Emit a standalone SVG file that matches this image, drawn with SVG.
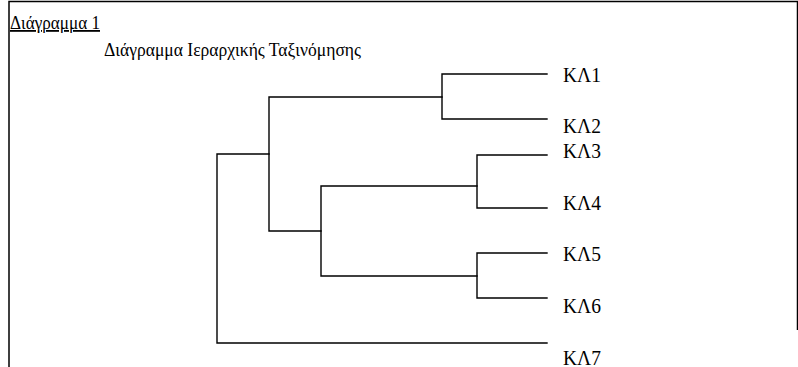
<svg xmlns="http://www.w3.org/2000/svg" width="798" height="367" viewBox="0 0 798 367">
  <style>
    .frame { stroke: #000; stroke-width: 1.5; fill: none; }
    .link { stroke: #000; stroke-width: 1.4; fill: none; stroke-linecap: square; }
    text { font-family: "Liberation Serif", "Times New Roman", serif; fill: #000; }
    .title { font-size: 18px; text-decoration: underline; }
    .subtitle { font-size: 18px; }
    .leaf { font-size: 21px; }
  </style>
  <rect width="798" height="367" fill="#fff"/>
  <!-- page frame -->
  <path class="frame" d="M9,367 V1.5 H797.5 V330"/>

  <text class="title" x="10" y="29" textLength="90" lengthAdjust="spacingAndGlyphs">Διάγραμμα 1</text>
  <text class="subtitle" x="104" y="56" textLength="257" lengthAdjust="spacingAndGlyphs">Διάγραμμα Ιεραρχικής Ταξινόμησης</text>

  <!-- dendrogram branches -->
  <g id="connectors">
    <path class="link" d="M547,74 H442 V119 H547"/>
    <path class="link" d="M547,155 H477 V208 H547"/>
    <path class="link" d="M547,253 H477 V298 H547"/>
    <path class="link" d="M477,186 H321 V276 H477"/>
    <path class="link" d="M442,97 H269 V231 H321"/>
    <path class="link" d="M269,154 H217 V343 H547"/>
  </g>

  <!-- leaf labels -->
  <g id="KL1"><text class="leaf" x="563" y="82" textLength="38" lengthAdjust="spacingAndGlyphs">ΚΛ1</text></g>
  <g id="KL2"><text class="leaf" x="563" y="133" textLength="38" lengthAdjust="spacingAndGlyphs">ΚΛ2</text></g>
  <g id="KL3"><text class="leaf" x="563" y="158" textLength="38" lengthAdjust="spacingAndGlyphs">ΚΛ3</text></g>
  <g id="KL4"><text class="leaf" x="563" y="210" textLength="38" lengthAdjust="spacingAndGlyphs">ΚΛ4</text></g>
  <g id="KL5"><text class="leaf" x="563" y="261" textLength="38" lengthAdjust="spacingAndGlyphs">ΚΛ5</text></g>
  <g id="KL6"><text class="leaf" x="563" y="313" textLength="38" lengthAdjust="spacingAndGlyphs">ΚΛ6</text></g>
  <g id="KL7"><text class="leaf" x="563" y="365" textLength="38" lengthAdjust="spacingAndGlyphs">ΚΛ7</text></g>
</svg>
